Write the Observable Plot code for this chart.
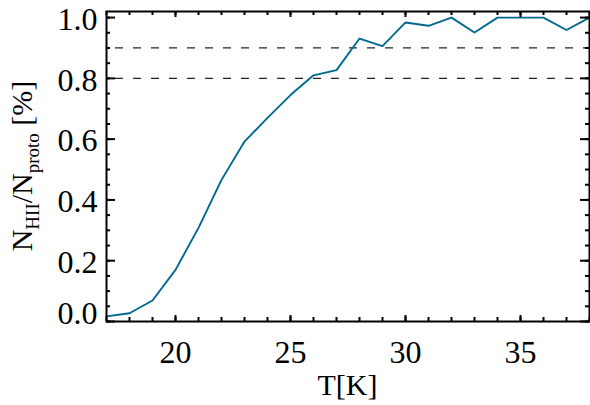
<!DOCTYPE html>
<html><head><meta charset="utf-8">
<script src="https://cdn.jsdelivr.net/npm/d3@7"></script>
<script src="https://cdn.jsdelivr.net/npm/@observablehq/plot@0.6"></script>
<style>body{margin:0;background:#fff} svg text{font-family:"Liberation Serif","Times New Roman",serif;}</style>
</head><body><div id="chart"></div>
<script>
const temps = [17,18,19,20,21,22,23,24,25,26,27,28,29,30,31,32,33,34,35,36,37,38];
const fractions = [0.017,0.027,0.069,0.17,0.308,0.466,0.592,0.67,0.745,0.81,0.827,0.931,0.906,0.984,0.973,1.0,0.951,1.0,1.0,1.0,0.959,1.0];
const thresholds = [0.8, 0.9];
const xTickLabels = [20,25,30,35];
const yTickLabels = [0.0,0.2,0.4,0.6,0.8,1.0];
const xLabel = "T[K]";

const xMinor = d3.range(17, 39, 1);
const yMinor = d3.range(0, 21).map(i => i * 0.05);
const data = temps.map((t, i) => ({t, f: fractions[i]}));

const W = 590, H = 405, mL = 106, mR = 1, mT = 11, mB = 84;
const pw = W - mL - mR, ph = H - mT - mB;
const serif = "Liberation Serif";

const plot = Plot.plot({
  width: W, height: H,
  marginLeft: mL, marginRight: mR, marginTop: mT, marginBottom: mB,
  style: {fontFamily: serif, fontSize: "30px", color: "#000", background: "#fff"},
  x: {domain: [17, 38]},
  y: {domain: [0, 1.02]},
  marks: [
    Plot.ruleY(thresholds, {stroke: "#222", strokeWidth: 1.3, strokeDasharray: "8,10", strokeDashoffset: 9}),
    Plot.line(data, {x: "t", y: "f", stroke: "#006a8e", strokeWidth: 1.9}),
    // y ticks inside (left and right)
    Plot.tickY(yMinor, {insetRight: pw - 4, stroke: "#000", strokeWidth: 2}),
    Plot.tickY(yMinor, {insetLeft: pw - 4, stroke: "#000", strokeWidth: 2}),
    Plot.tickY(yTickLabels, {insetRight: pw - 9, stroke: "#000", strokeWidth: 2}),
    Plot.tickY(yTickLabels, {insetLeft: pw - 9, stroke: "#000", strokeWidth: 2}),
    // x ticks inside (bottom and top)
    Plot.tickX(xMinor, {insetTop: ph - 4, stroke: "#000", strokeWidth: 2}),
    Plot.tickX(xMinor, {insetBottom: ph - 4, stroke: "#000", strokeWidth: 2}),
    Plot.tickX(xTickLabels, {insetTop: ph - 6, stroke: "#000", strokeWidth: 2}),
    Plot.tickX(xTickLabels, {insetBottom: ph - 6, stroke: "#000", strokeWidth: 2}),
    Plot.frame({stroke: "#000", strokeWidth: 2}),
    Plot.axisX(xTickLabels, {tickSize: 0, tickPadding: 19, tickFormat: d => String(d), label: null, fontFamily: serif, fontSize: 32}),
    Plot.axisY(yTickLabels.filter(d => d > 0), {tickSize: 0, tickPadding: 9, tickFormat: d => d.toFixed(1), dy: 2, label: null, fontFamily: serif, fontSize: 32}),
    Plot.axisY([0], {tickSize: 0, tickPadding: 9, tickFormat: d => d.toFixed(1), dy: -8, label: null, fontFamily: serif, fontSize: 32})
  ]
});
document.getElementById("chart").appendChild(plot);

const svg = d3.select(plot);
svg.append("text")
  .attr("x", mL + pw / 2).attr("y", 395)
  .attr("text-anchor", "middle")
  .style("font-family", serif).style("font-size", "30px").attr("fill", "#000")
  .text(xLabel);

const yl = svg.append("text")
  .attr("transform", `translate(32,${mT + ph / 2}) rotate(-90)`)
  .attr("text-anchor", "middle")
  .style("font-family", serif).style("font-size", "30px").attr("fill", "#000");
yl.append("tspan").text("N");
yl.append("tspan").attr("dy", 7).style("font-size", "19px").text("HII");
yl.append("tspan").attr("dy", -7).text("/N");
yl.append("tspan").attr("dy", 7).style("font-size", "19px").text("proto");
yl.append("tspan").attr("dy", -7).text(" [%]");
</script>
</body></html>
